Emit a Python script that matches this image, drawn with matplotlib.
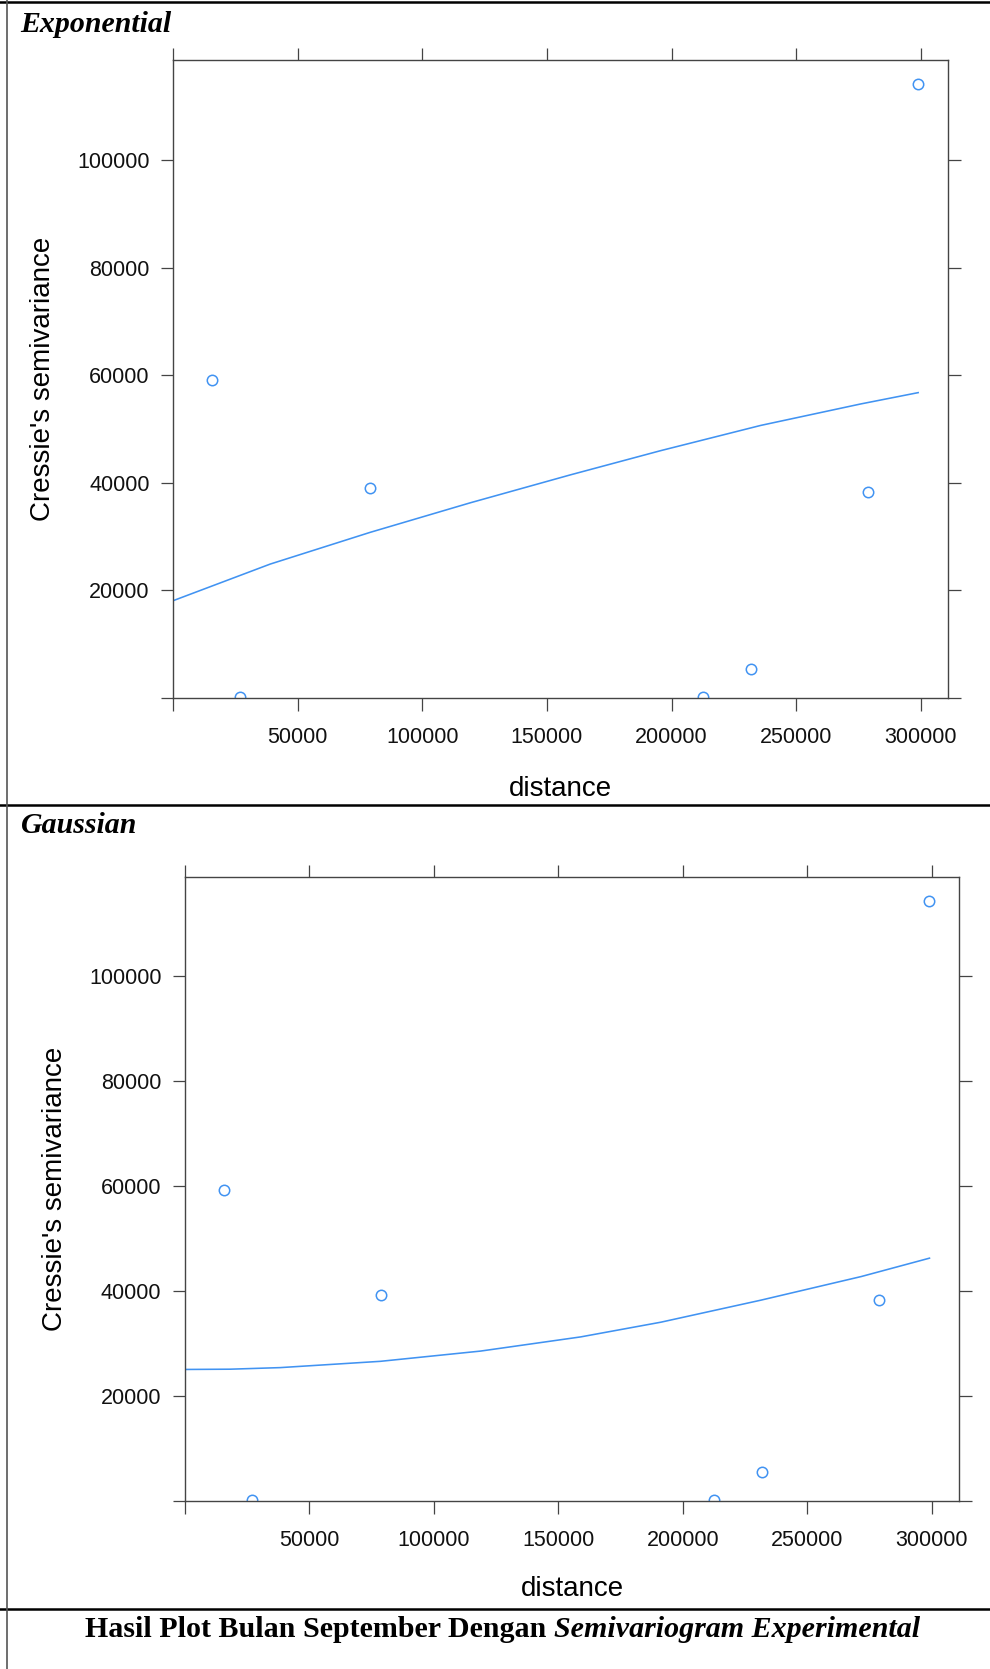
import matplotlib
matplotlib.use("Agg")
import matplotlib.pyplot as plt
from matplotlib.lines import Line2D

# experimental semivariogram (same points in both panels)
dist = [15500, 26800, 78800, 212500, 231800, 278700, 298900]
gamma = [59200, 80, 39100, 80, 5400, 38300, 114200]

# fitted model curves
exp_h = [0, 38900, 79000, 119200, 159400, 195600, 235800, 276000, 299000]
exp_g = [18100, 24900, 30800, 36300, 41500, 46000, 50700, 54700, 56800]
gau_h = [0, 18100, 38200, 78500, 118700, 158900, 191100, 231300, 271600, 299000]
gau_g = [25000, 25050, 25350, 26550, 28500, 31200, 34000, 38200, 42700, 46200]

xticks = [0, 50000, 100000, 150000, 200000, 250000, 300000]
yticks = [0, 20000, 40000, 60000, 80000, 100000]

W, H = 990, 1669
blue = '#4193f2'
axcol = '#444444'
sans = 'Liberation Sans'
serif = 'Liberation Serif'

fig = plt.figure(figsize=(W / 100, H / 100), dpi=100)


def box(l, t, r, b):
    # pixel box -> figure fraction rect
    return [l / W, 1 - b / H, (r - l) / W, (b - t) / H]


def panel(rect, h, g):
    ax = fig.add_axes(rect)
    ax.plot(h, g, color=blue, lw=1.15)
    ax.plot(dist, gamma, ls='none', marker='o', ms=7.5, mfc='none',
            mec=blue, mew=1.1)
    ax.set_xlim(0, 1.04 * max(dist))
    ax.set_ylim(0, 1.04 * max(gamma))
    ax.set_xticks(xticks)
    ax.set_xticklabels([''] + [str(v) for v in xticks[1:]])
    ax.set_yticks(yticks)
    ax.set_yticklabels([''] + [str(v) for v in yticks[1:]])
    for s in ax.spines.values():
        s.set_color(axcol)
        s.set_linewidth(1.0)
    ax.tick_params(direction='out', length=9, width=0.9, color=axcol,
                   top=True, right=True, labelsize=15.5, labelcolor='#111111')
    ax.tick_params(axis='x', pad=12)
    ax.tick_params(axis='y', pad=8)
    for lab in ax.get_xticklabels() + ax.get_yticklabels():
        lab.set_family(sans)
    ax.set_xlabel('distance', fontsize=20, family=sans, va='center')
    ax.set_ylabel("Cressie's semivariance", fontsize=20, family=sans,
                  va='center')
    ax.xaxis.set_label_coords(0.5, -0.142)
    ax.yaxis.set_label_coords(-0.168, 0.5)
    return ax


panel(box(173.3, 59.6, 947.7, 697.9), exp_h, exp_g)
panel(box(185.0, 877.2, 959.0, 1500.7), gau_h, gau_g)

# table frame of the document
for y in [2, 805, 1609]:
    fig.add_artist(Line2D([0, 1], [1 - y / H, 1 - y / H], color='black',
                          lw=1.8, transform=fig.transFigure))
fig.add_artist(Line2D([6.5 / W, 6.5 / W], [0, 1], color='#555555', lw=1.2,
                      transform=fig.transFigure))

fig.text(20 / W, 1 - 32 / H, 'Exponential', family=serif, fontsize=21.5,
         weight='bold', style='italic', va='baseline')
fig.text(21 / W, 1 - 833 / H, 'Gaussian', family=serif, fontsize=21.5,
         weight='bold', style='italic', va='baseline')

t1 = fig.text(85 / W, 1 - 1637 / H, 'Hasil Plot Bulan September Dengan ',
              family=serif, fontsize=21.6, weight='bold', va='baseline')
fig.canvas.draw()
bb = t1.get_window_extent()
fig.text(bb.x1 / W, 1 - 1637 / H, 'Semivariogram Experimental',
         family=serif, fontsize=21.6, weight='bold', style='italic',
         va='baseline')

fig.savefig('out.png', dpi=100)
